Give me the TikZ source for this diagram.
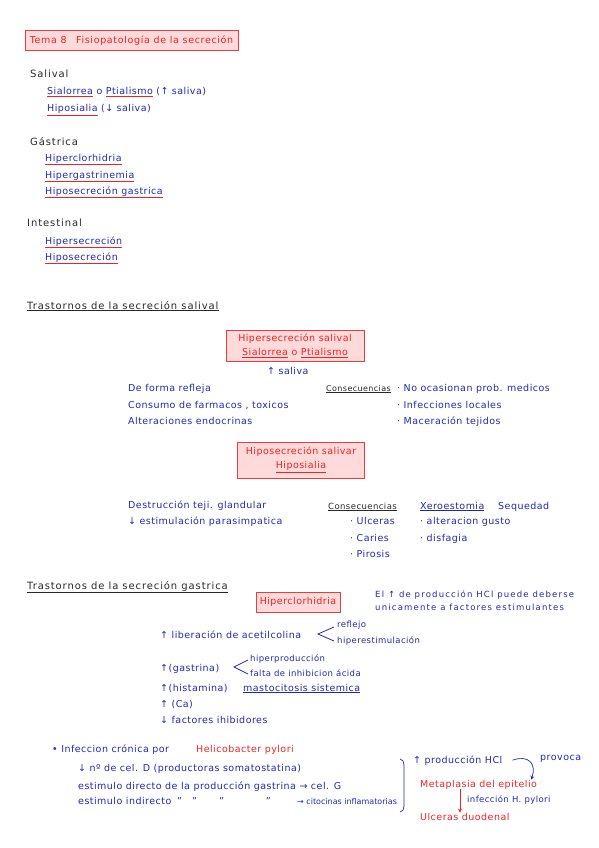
\documentclass[tikz,border=0pt]{standalone}
\usepackage{fontspec}
\setmainfont{DejaVu Sans}[LetterSpace=5]
\usetikzlibrary{arrows.meta,positioning}
\definecolor{bluink}{RGB}{35,40,180}
\definecolor{redink}{RGB}{240,35,35}
\definecolor{boxfill}{RGB}{255,218,218}
\definecolor{boxline}{RGB}{238,60,60}
\definecolor{grayink}{RGB}{40,40,40}
\newcommand{\redul}[1]{{\color{redink}\underline{\color{bluink}#1}}}
\tikzset{
    txt/.style={anchor=base west, inner sep=0pt, font=\fontsize{9.5}{11}\selectfont},
    bluetxt/.style={txt, text=bluink},
    redtxt/.style={txt, text=redink},
    blacktxt/.style={txt, text=grayink},
    bigtxt/.style={font=\fontsize{10}{12}\selectfont\addfontfeature{LetterSpace=9}},
    smalltxt/.style={font=\fontsize{8.5}{10}\selectfont},
    % cajas rojas de los titulos
    redbox/.style={
        draw=boxline,
        fill=boxfill,
        line width=1pt,
        text=redink,
        align=center,
        inner sep=2pt,
        font=\fontsize{9.5}{14}\selectfont
    },
    bluearrow/.style={
        bluink,
        line width=0.7pt,
        -{Stealth[length=4pt, width=4pt]}
    },
    redarrow/.style={
        redink,
        line width=0.7pt,
        -{Stealth[length=4pt, width=4pt]}
    }
}

\begin{document}
\begin{tikzpicture}[x=1pt, y=-1pt]
	\useasboundingbox (0,0) rectangle (599,848);
	
	\node[redbox, minimum width=213pt, minimum height=20pt, font=\fontsize{9.5}{12}\selectfont\addfontfeature{LetterSpace=7}] (tema) at (131.5,41) {Tema 8\quad Fisiopatología de la secreción};
	
	\node[blacktxt, bigtxt] (salival) at (30,78) {Salival};
	\node[bluetxt] (sialo) at (47,95) {\redul{Sialorrea} o \redul{Ptialismo} (↑ saliva)};
	\node[bluetxt] (hiposial) at (47,112) {\redul{Hiposialia} (↓ saliva)};
	
	\node[blacktxt, bigtxt] (gastr) at (30,145) {Gástrica};
	\node[bluetxt] (hiperclor) at (45,161) {\redul{Hiperclorhidria}};
	\node[bluetxt] (hipergas) at (45,178) {\redul{Hipergastrinemia}};
	\node[bluetxt] (hiposecg) at (45,194) {\redul{Hiposecreción gastrica}};
	
	\node[blacktxt, bigtxt] (intest) at (27,226) {Intestinal};
	\node[bluetxt] (hipersec) at (45,244) {\redul{Hipersecreción}};
	\node[bluetxt] (hiposec) at (45,260) {\redul{Hiposecreción}};
	
	% saliva
	\node[blacktxt, bigtxt] (trsal) at (27,309) {\underline{Trastornos de la secreción salival}};
	
	\node[redbox, minimum width=138pt, minimum height=31pt] (hipersal) at (295,346) {Hipersecreción salival\\\underline{Sialorrea} o \underline{Ptialismo}};
	\node[bluetxt] (saliva) at (267,374) {↑ saliva};
	
	\node[bluetxt] (refleja) at (128,391) {De forma refleja};
	\node[bluetxt] (farmacos) at (128,408) {Consumo de farmacos , toxicos};
	\node[bluetxt] (endocr) at (128,424) {Alteraciones endocrinas};
	
	\node[blacktxt, font=\fontsize{8}{10}\selectfont] (conseq1) at (326,391) {\underline{Consecuencias}};
	\node[bluetxt] (noprob) at (397,391) {· No ocasionan prob. medicos};
	\node[bluetxt] (infloc) at (397,408) {· Infecciones locales};
	\node[bluetxt] (macer) at (397,424) {· Maceración tejidos};
	
	\node[redbox, minimum width=127pt, minimum height=36pt] (hiposal) at (301,460) {Hiposecreción salivar\\\underline{Hiposialia}};
	
	\node[bluetxt] (destr) at (128,508) {Destrucción teji. glandular};
	\node[bluetxt] (parasimp) at (128,524) {↓ estimulación parasimpatica};
	
	\node[blacktxt, font=\fontsize{8.5}{10}\selectfont] (conseq2) at (328,509) {\underline{Consecuencias}};
	\node[bluetxt] (ulceras) at (350,524) {· Ulceras};
	\node[bluetxt] (caries) at (350,541) {· Caries};
	\node[bluetxt] (pirosis) at (350,557) {· Pirosis};
	
	\node[bluetxt] (xero) at (420,509) {\underline{Xeroestomia}};
	\node[bluetxt] (sequedad) at (498,509) {Sequedad};
	\node[bluetxt] (gusto) at (420,524) {· alteracion gusto};
	\node[bluetxt] (disfagia) at (420,541) {· disfagia};
	
	% gastrica
	\node[blacktxt, bigtxt] (trgas) at (27,589) {\underline{Trastornos de la secreción gastrica}};
	\node[redbox, minimum width=84pt, minimum height=20pt] (hclbox) at (298,602) {Hiperclorhidria};
	\node[bluetxt, font=\fontsize{8.5}{10}\selectfont\addfontfeature{LetterSpace=14}] (elhcl) at (375,597) {El ↑ de producción HCl puede deberse};
	\node[bluetxt, font=\fontsize{8.5}{10}\selectfont\addfontfeature{LetterSpace=14}] (unicam) at (375,610) {unicamente a factores estimulantes};
	
	\node[bluetxt] (acetil) at (160,638) {↑ liberación de acetilcolina};
	\draw[bluink, line width=0.8pt] (334,627) -- (318,634) -- (334,641);
	\node[bluetxt, smalltxt] (reflejo) at (337,627) {reflejo};
	\node[bluetxt, smalltxt] (hiperest) at (337,643) {hiperestimulación};
	
	\node[bluetxt] (gastrina) at (160,671) {↑(gastrina)};
	\draw[bluink, line width=0.8pt] (248,660) -- (234,667) -- (248,674);
	\node[bluetxt, smalltxt] (hiperprod) at (250,661) {hiperproducción};
	\node[bluetxt, smalltxt] (falta) at (250,676) {falta de inhibicion ácida};
	\node[bluetxt] (histam) at (160,691) {↑(histamina)};
	\node[bluetxt] (mastoc) at (243,691) {\underline{mastocitosis sistemica}};
	\node[bluetxt] (calcio) at (160,707) {↑ (Ca)};
	\node[bluetxt] (inhib) at (160,723) {↓ factores ihibidores};
	
	\node[bluetxt] (infecc) at (52,752) {• Infeccion crónica por};
	\node[redtxt] (helico) at (196,752) {Helicobacter pylori};
	\node[bluetxt] (celD) at (78,771) {↓ nº de cel. D (productoras somatostatina)};
	\node[bluetxt] (directo) at (78,789) {estimulo directo de la producción gastrina → cel. G};
	\node[bluetxt] (indirecto) at (78,804) {estimulo indirecto};
	\node[bluetxt] (ditto) at (177,804) {"\hspace{10pt}"\hspace{22pt}"\hspace{42pt}"};
	\node[bluetxt, font=\fontsize{8}{10}\selectfont\addfontfeature{LetterSpace=0}] (citoc) at (297,804) {→ citocinas inflamatorias};
	
	\draw[bluink, line width=0.7pt] (400,759) to[out=0, in=90] (404,765) -- (404,806) to[out=-90, in=0] (400,812);
	
	\node[bluetxt] (prodhcl) at (413,763) {↑ producción HCl};
	\node[bluetxt] (provoca) at (540,760) {provoca};
	\node[redtxt] (meta) at (420,787) {Metaplasia del epitelio};
	\draw[bluearrow] ([xshift=10pt]prodhcl.east) to[out=20, in=70, looseness=1.6] ([xshift=-6pt]meta.north east);
	
	\node[bluetxt, smalltxt] (infhp) at (467,802) {infección H. pylori};
	\node[redtxt] (ulcduo) at (420,820) {Ulceras duodenal};
	\draw[redarrow] ([xshift=40pt]meta.south west) -- ([xshift=40pt]ulcduo.north west);
\end{tikzpicture}
\end{document}
